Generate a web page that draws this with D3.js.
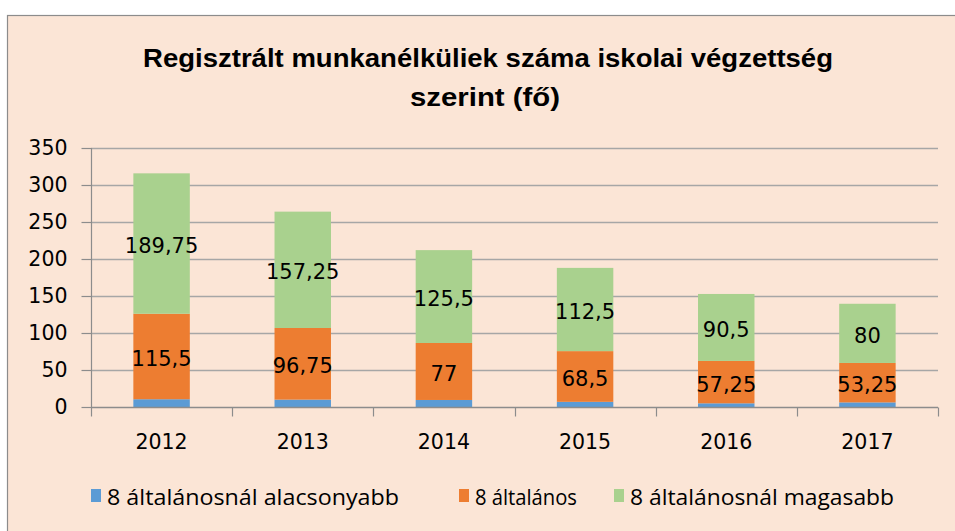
<!DOCTYPE html>
<html>
<head>
<meta charset="utf-8">
<script src="https://cdn.jsdelivr.net/npm/d3@7"></script>
<style>
  html, body { margin: 0; padding: 0; background: #ffffff; }
  svg { display: block; }
</style>
</head>
<body>
<svg id="chart" width="955" height="531"></svg>
<script>
const categories = ["2012", "2013", "2014", "2015", "2016", "2017"];
const seriesNames = ["8 általánosnál alacsonyabb", "8 általános", "8 általánosnál magasabb"];
const lowerValues = [10.5, 10, 9.5, 7, 5, 6.25];
const primaryValues = [115.5, 96.75, 77, 68.5, 57.25, 53.25];
const higherValues = [189.75, 157.25, 125.5, 112.5, 90.5, 80];
const yTicks = [0, 50, 100, 150, 200, 250, 300, 350];
const colors = ["#5B9BD5", "#ED7D31", "#A9D18E"];
const titleLines = ["Regisztrált munkanélküliek száma iskolai végzettség", "szerint (fő)"];

(function () {
const svg = d3.select("#chart");
const W = 955, H = 531;

svg.append("rect").attr("x", 7.5).attr("y", 15.5).attr("width", W).attr("height", H)
  .attr("fill", "#FBE5D6").attr("stroke", "#8C8C8C").attr("stroke-width", 1.2);

const titleFont = "'Liberation Sans Narrow', 'Arial Narrow', 'Liberation Sans', sans-serif";
svg.append("text").attr("x", 488).attr("y", 67).attr("text-anchor", "middle")
  .attr("font-family", titleFont).attr("font-weight", "bold").attr("font-size", 26)
  .attr("fill", "#000").attr("textLength", 690).attr("lengthAdjust", "spacingAndGlyphs")
  .text(titleLines[0]);
svg.append("text").attr("x", 485).attr("y", 106).attr("text-anchor", "middle")
  .attr("font-family", titleFont).attr("font-weight", "bold").attr("font-size", 26)
  .attr("fill", "#000").attr("textLength", 150).attr("lengthAdjust", "spacingAndGlyphs")
  .text(titleLines[1]);

const pLeft = 91, pRight = 938, pTop = 148, pBottom = 407;
const x = d3.scaleBand().domain(categories).range([pLeft, pRight]).paddingInner(0.6).paddingOuter(0.3);
const y = d3.scaleLinear().domain([0, 350]).range([pBottom, pTop]);

const bodyFont = "'DejaVu Sans', sans-serif";

svg.append("g").selectAll("line").data(yTicks.filter(d => d > 0)).join("line")
  .attr("x1", pLeft).attr("x2", pRight)
  .attr("y1", d => Math.round(y(d)) + 0.5).attr("y2", d => Math.round(y(d)) + 0.5)
  .attr("stroke", "#A6A6A6").attr("stroke-width", 1.5);

const table = categories.map((c, i) => ({
  cat: c,
  [seriesNames[0]]: lowerValues[i],
  [seriesNames[1]]: primaryValues[i],
  [seriesNames[2]]: higherValues[i]
}));
const stacked = d3.stack().keys(seriesNames)(table);

const gBars = svg.append("g");
stacked.forEach((layer, li) => {
  gBars.append("g").selectAll("rect").data(layer).join("rect")
    .attr("x", d => x(d.data.cat))
    .attr("width", x.bandwidth())
    .attr("y", d => y(d[1]))
    .attr("height", d => y(d[0]) - y(d[1]))
    .attr("fill", colors[li]);
});

[1, 2].forEach(li => {
  svg.append("g").selectAll("text").data(stacked[li]).join("text")
    .attr("x", d => x(d.data.cat) + x.bandwidth() / 2)
    .attr("y", d => y((d[0] + d[1]) / 2) + 2)
    .attr("dy", "0.36em")
    .attr("text-anchor", "middle")
    .attr("font-family", bodyFont).attr("font-size", 21).attr("fill", "#000")
    .text(d => String(d[1] - d[0]).replace(".", ","));
});

const yAxis = d3.axisLeft(y).tickValues(yTicks).tickSize(10).tickPadding(14).tickFormat(d => d);
const gy = svg.append("g").attr("transform", `translate(${pLeft + 0.5},0)`).call(yAxis);
gy.selectAll(".tick line").attr("stroke", "#8C8C8C").attr("stroke-width", 1.2);
gy.selectAll(".tick text").attr("font-family", bodyFont).attr("font-size", 20.5).attr("fill", "#000");
gy.select(".domain").attr("stroke", "#8C8C8C").attr("stroke-width", 1.2).attr("d", `M0,${pTop}V${pBottom}`);

const gx = svg.append("g").attr("transform", `translate(0,${pBottom + 0.5})`);
gx.append("line").attr("x1", pLeft).attr("x2", pRight).attr("stroke", "#8C8C8C").attr("stroke-width", 1.5);
const bounds = d3.range(categories.length + 1).map(i => pLeft + i * x.step());
gx.selectAll("line.tk").data(bounds).join("line").attr("class", "tk")
  .attr("x1", d => Math.round(d) + 0.5).attr("x2", d => Math.round(d) + 0.5)
  .attr("y1", 0).attr("y2", 9).attr("stroke", "#8C8C8C").attr("stroke-width", 1.2);
gx.selectAll("text").data(categories).join("text")
  .attr("x", d => x(d) + x.bandwidth() / 2).attr("y", 34).attr("dy", "0.36em")
  .attr("text-anchor", "middle").attr("font-family", bodyFont).attr("font-size", 20.5).attr("fill", "#000")
  .text(d => d);

const legendItems = [
  { name: seriesNames[0], color: colors[0], x: 91, len: 292 },
  { name: seriesNames[1], color: colors[1], x: 459, len: 102 },
  { name: seriesNames[2], color: colors[2], x: 614, len: 264 }
];
const lg = svg.append("g");
legendItems.forEach(it => {
  lg.append("rect").attr("x", it.x).attr("y", 489).attr("width", 10).attr("height", 13).attr("fill", it.color);
  lg.append("text").attr("x", it.x + 16).attr("y", 497).attr("dy", "0.36em")
    .attr("font-family", "'Open Sans', sans-serif").attr("font-size", 22).attr("fill", "#000")
    .attr("textLength", it.len).attr("lengthAdjust", "spacingAndGlyphs")
    .text(it.name);
});
})();
</script>
</body>
</html>
